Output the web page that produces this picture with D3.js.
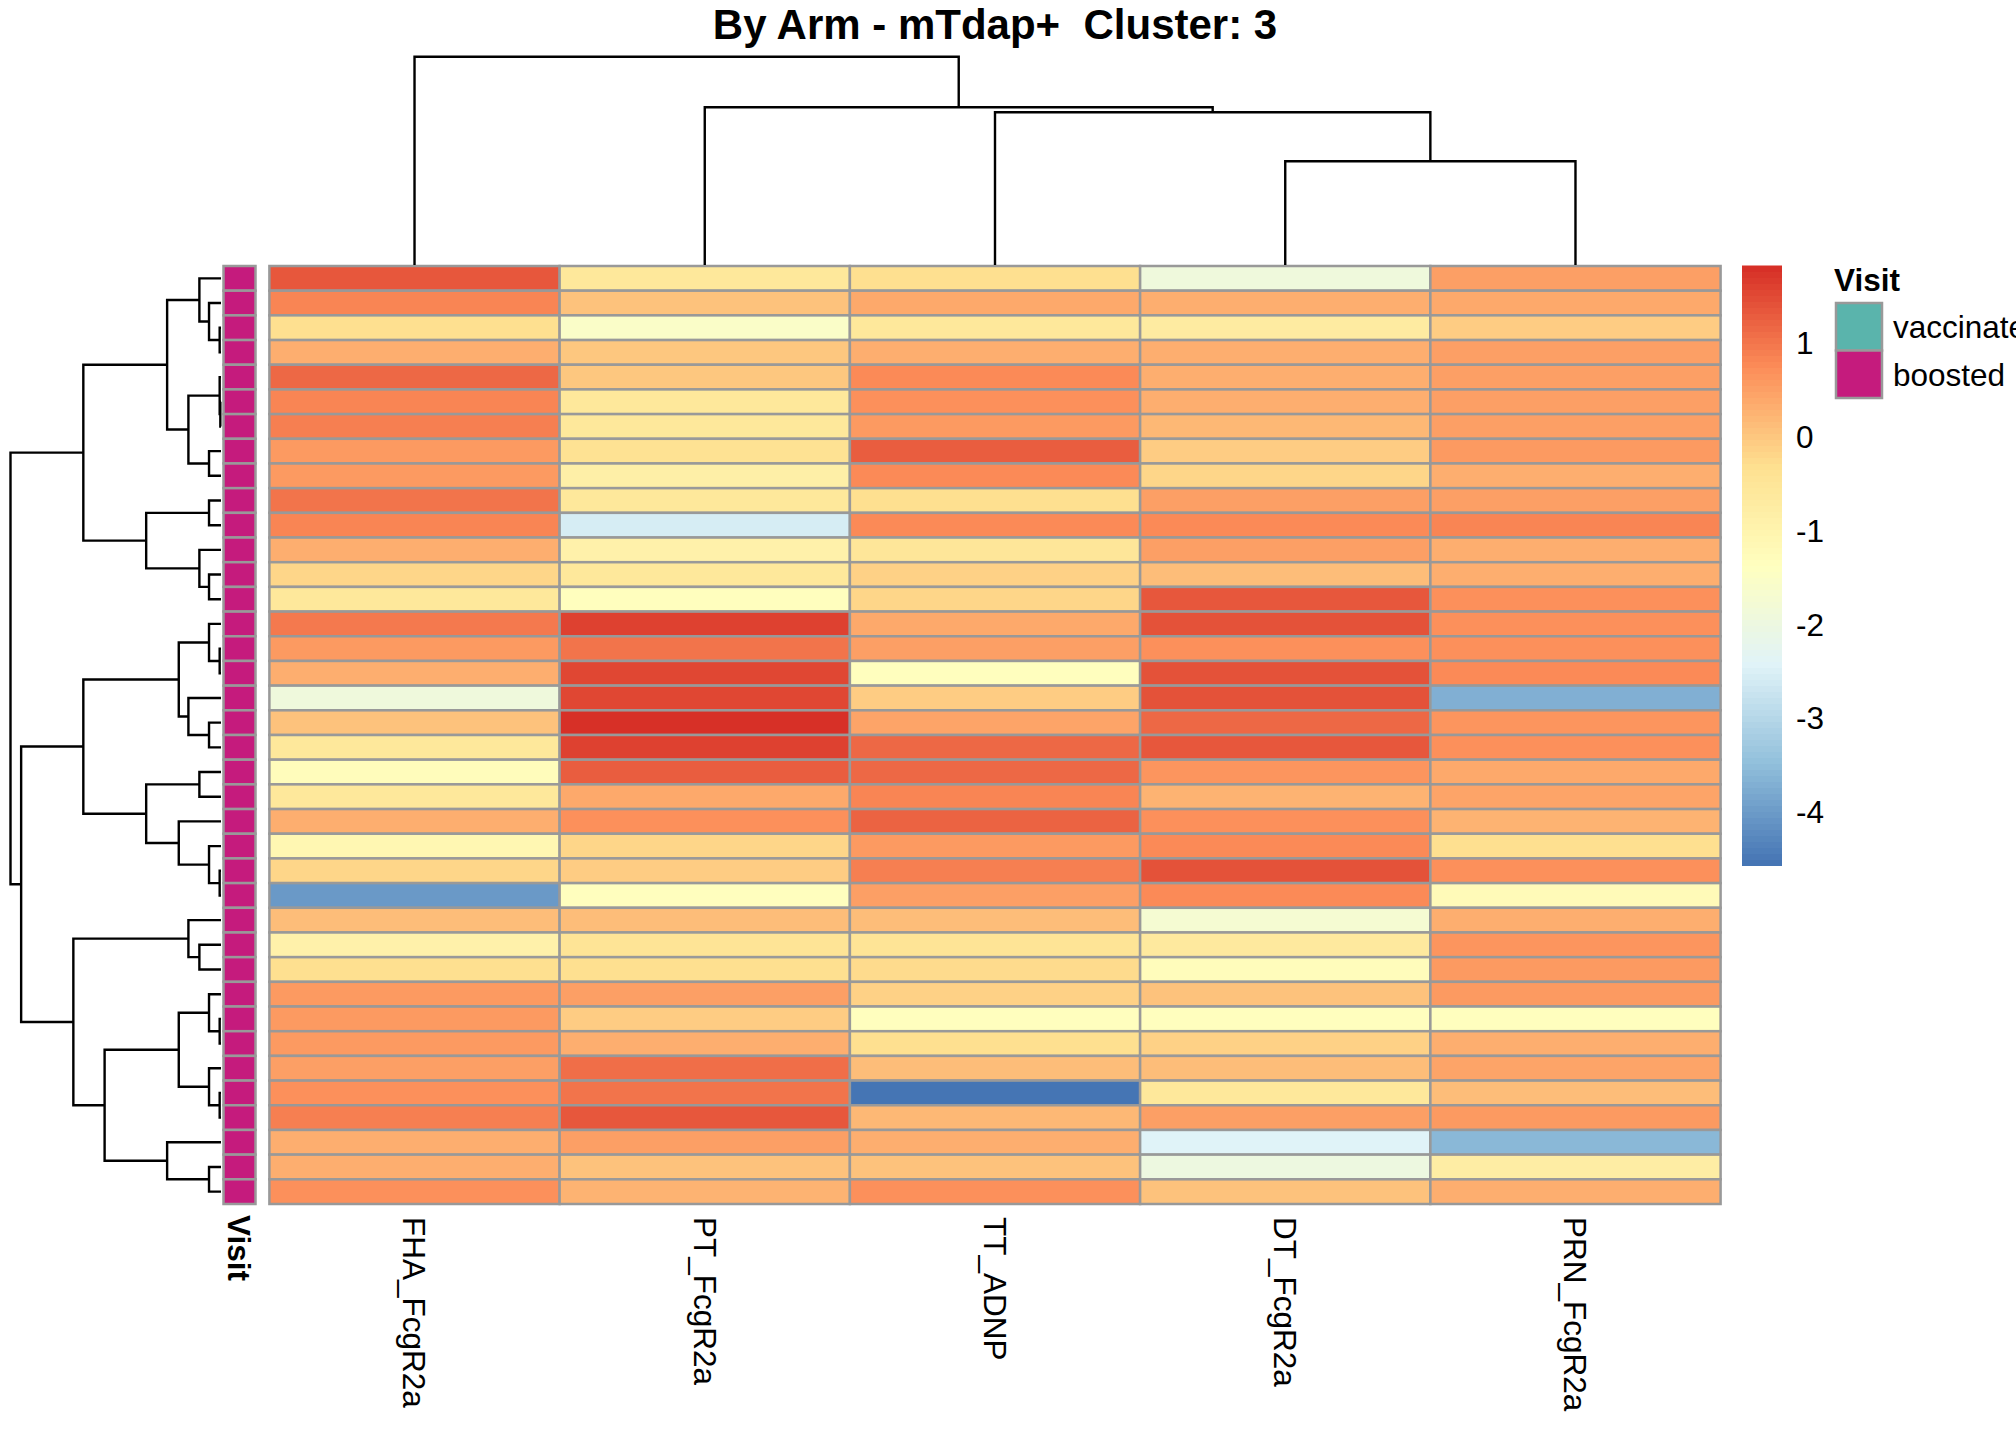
<!DOCTYPE html>
<html>
<head>
<meta charset="utf-8">
<script src="https://cdn.jsdelivr.net/npm/d3@7"></script>
<style>
    body { margin: 0; background: #fff; }
    svg { display: block; overflow: hidden; }
    text { font-family: "Liberation Sans", Arial, sans-serif; fill: #000; }
</style>
</head>
<body>
<svg id="canvas" width="2016" height="1440"></svg>
<script>
// ---- data (rows already in clustered order, top to bottom) ----
var columns = ['FHA_FcgR2a', 'PT_FcgR2a', 'TT_ADNP', 'DT_FcgR2a', 'PRN_FcgR2a'];

var fhaFcgR2a = [1.35, 0.85, -0.3, 0.35, 1.15, 0.85, 0.88, 0.58, 0.58, 1.0, 0.85, 0.35, -0.2,
    -0.6, 0.95, 0.58, 0.35, -1.9, 0.05, -0.55, -1.3, -0.6, 0.35, -1.1, -0.2, -4.05,
    0.15, -0.9, -0.3, 0.58, 0.58, 0.6, 0.52, 0.68, 0.93, 0.35, 0.3, 0.72];
var ptFcgR2a = [-0.6, 0.05, -1.55, 0.0, 0.0, -0.55, -0.55, -0.4, -0.8, -0.55, -2.55, -0.9, -0.6,
    -1.35, 1.6, 1.0, 1.57, 1.57, 1.83, 1.6, 1.28, 0.42, 0.72, -0.2, -0.05, -1.35,
    0.15, -0.45, -0.3, 0.52, -0.05, 0.3, 1.12, 1.0, 1.35, 0.52, 0.05, 0.25];
var ttADNP = [-0.3, 0.4, -0.6, 0.35, 0.75, 0.7, 0.6, 1.3, 0.75, -0.3, 0.77, -0.5, -0.1,
    -0.2, 0.42, 0.52, -1.35, -0.05, 0.45, 1.15, 1.15, 0.85, 1.2, 0.6, 0.88, 0.52,
    0.15, -0.45, -0.28, -0.1, -1.35, -0.3, 0.15, -4.57, 0.2, 0.35, 0.08, 0.74];
var dtFcgR2a = [-1.9, 0.35, -0.7, 0.3, 0.3, 0.3, 0.2, -0.05, -0.2, 0.5, 0.8, 0.5, 0.15,
    1.35, 1.42, 0.72, 1.4, 1.4, 1.15, 1.35, 0.62, 0.25, 0.72, 0.8, 1.4, 0.8,
    -1.7, -0.65, -1.25, 0.05, -1.35, -0.1, 0.15, -0.55, 0.52, -2.45, -2.0, 0.05];
var prnFcgR2a = [0.5, 0.4, -0.05, 0.5, 0.5, 0.5, 0.5, 0.58, 0.35, 0.5, 0.82, 0.35, 0.3,
    0.72, 0.72, 0.68, 0.75, -3.7, 0.62, 0.72, 0.4, 0.48, 0.25, -0.3, 0.68, -1.2,
    0.3, 0.62, 0.6, 0.6, -1.35, 0.3, 0.48, 0.15, 0.6, -3.6, -0.75, 0.3];

var seriesValues = [fhaFcgR2a, ptFcgR2a, ttADNP, dtFcgR2a, prnFcgR2a];

var visitLevels = ['vaccinated', 'boosted'];
var visitColors = ['#5AB4AC', '#C51B7D'];
var rowVisit = ['boosted', 'boosted', 'boosted', 'boosted', 'boosted', 'boosted', 'boosted',
    'boosted', 'boosted', 'boosted', 'boosted', 'boosted', 'boosted', 'boosted', 'boosted',
    'boosted', 'boosted', 'boosted', 'boosted', 'boosted', 'boosted', 'boosted', 'boosted',
    'boosted', 'boosted', 'boosted', 'boosted', 'boosted', 'boosted', 'boosted', 'boosted',
    'boosted', 'boosted', 'boosted', 'boosted', 'boosted', 'boosted', 'boosted'];

var legendTicks = [1, 0, -1, -2, -3, -4];
var rampColors = ['#4575B4', '#91BFDB', '#E0F3F8', '#FFFFBF', '#FEE090', '#FC8D59', '#D73027'];

// dendrograms: leaf = display index, node = [height, left, right]
var rowTree = [6.33,
    [4.14,
        [1.62,
            [0.65, 0, [0.36, 1, [0.04, 2, 3]]],
            [0.98, [0.04, 4, [0.02, 5, 6]], [0.36, 7, 8]]],
        [2.25,
            [0.36, 9, 10],
            [0.65, 11, [0.36, 12, 13]]]],
    [6.01,
        [4.14,
            [1.27,
                [0.36, 14, [0.04, 15, 16]],
                [0.98, 17, [0.36, 18, 19]]],
            [2.25,
                [0.65, 20, 21],
                [1.27, 22, [0.36, 23, [0.04, 24, 25]]]]],
        [4.44,
            [0.98, 26, [0.65, 27, 28]],
            [3.50,
                [1.27,
                    [0.36, 29, [0.04, 30, 31]],
                    [0.36, 32, [0.04, 33, 34]]],
                [1.62, 35, [0.36, 36, 37]]]]]];
var colTree = [20.83, 0, [15.77, 1, [15.27, 2, [10.37, 3, 4]]]];

var title = 'By Arm - mTdap+  Cluster: 3';

// ---- layout ----
var G = {
    hmLeft: 269.4, hmRight: 1720.6, hmTop: 266, hmBottom: 1204,
    annLeft: 223.5, annWidth: 32,
    rowDendroLeft: 10.5, rowDendroRight: 221,
    colDendroTop: 56.7, colDendroBottom: 265,
    legendX: 1742, legendW: 40, legendTop: 265.5, legendBottom: 865.5,
    border: '#999999', borderWidth: 2.5,
    fontSize: 31.5
};

var svg = d3.select('#canvas');
var nRows = fhaFcgR2a.length;

var xScale = d3.scaleBand().domain(d3.range(columns.length)).range([G.hmLeft, G.hmRight]);
var yScale = d3.scaleBand().domain(d3.range(nRows)).range([G.hmTop, G.hmBottom]);

var extent = d3.extent(d3.merge(seriesValues));
var ramp = d3.piecewise(d3.interpolateRgb, rampColors);
var palette = d3.range(100).map(function(i) { return ramp(i / 99); });
var color = d3.scaleQuantize().domain(extent).range(palette);
var visitColor = d3.scaleOrdinal().domain(visitLevels).range(visitColors);

// ---- heatmap cells ----
var cells = [];
seriesValues.forEach(function(vals, c) {
    vals.forEach(function(v, r) { cells.push({ c: c, r: r, v: v }); });
});

svg.append('g').attr('class', 'cells')
    .selectAll('rect').data(cells).enter().append('rect')
        .attr('x', function(d) { return xScale(d.c); })
        .attr('y', function(d) { return yScale(d.r); })
        .attr('width', xScale.bandwidth())
        .attr('height', yScale.bandwidth())
        .attr('fill', function(d) { return color(d.v); })
        .attr('stroke', G.border)
        .attr('stroke-width', G.borderWidth);

// ---- row annotation ----
svg.append('g').attr('class', 'annotation')
    .selectAll('rect').data(rowVisit).enter().append('rect')
        .attr('x', G.annLeft)
        .attr('y', function(d, i) { return yScale(i); })
        .attr('width', G.annWidth)
        .attr('height', yScale.bandwidth())
        .attr('fill', function(d) { return visitColor(d); })
        .attr('stroke', G.border)
        .attr('stroke-width', G.borderWidth);

// ---- dendrograms ----
function toNode(t) {
    return typeof t === 'number' ? { leaf: t, h: 0 } : { h: t[0], children: [toNode(t[1]), toNode(t[2])] };
}

function drawDendro(tree, posScale, hScale, horizontal) {
    var root = d3.hierarchy(toNode(tree));
    root.eachAfter(function(n) {
        n.pos = n.children ? (n.children[0].pos + n.children[1].pos) / 2 : posScale(n.data.leaf) + posScale.bandwidth() / 2;
    });
    var nodes = root.descendants().filter(function(n) { return n.children; });
    svg.append('g').attr('class', 'dendro')
        .selectAll('path').data(nodes).enter().append('path')
            .attr('fill', 'none')
            .attr('stroke', '#000')
            .attr('stroke-width', 2.4)
            .attr('d', function(n) {
                var a = n.children[0], b = n.children[1],
                    h = hScale(n.data.h);
                if (horizontal) {
                    return 'M' + hScale(a.data.h) + ',' + a.pos + 'H' + h + 'V' + b.pos + 'H' + hScale(b.data.h);
                }
                return 'M' + a.pos + ',' + hScale(a.data.h) + 'V' + h + 'H' + b.pos + 'V' + hScale(b.data.h);
            });
}

drawDendro(rowTree, yScale,
    d3.scaleLinear().domain([0, rowTree[0]]).range([G.rowDendroRight, G.rowDendroLeft]), true);
drawDendro(colTree, xScale,
    d3.scaleLinear().domain([0, colTree[0]]).range([G.colDendroBottom, G.colDendroTop]), false);

// ---- labels ----
svg.append('g').attr('class', 'col-labels')
    .selectAll('text').data(columns).enter().append('text')
        .attr('transform', function(d, i) {
            return 'translate(' + (xScale(i) + xScale.bandwidth() / 2) + ',' + (G.hmBottom + 13) + ') rotate(90)';
        })
        .attr('dy', '0.35em')
        .style('font-size', G.fontSize + 'px')
        .text(function(d) { return d; });

svg.append('text')
    .attr('transform', 'translate(' + (G.annLeft + G.annWidth / 2) + ',' + (G.hmBottom + 11) + ') rotate(90)')
    .attr('dy', '0.35em')
    .style('font-size', G.fontSize + 'px')
    .style('font-weight', 'bold')
    .text('Visit');

// title keeps its double space
svg.append('text')
    .attr('x', (G.hmLeft + G.hmRight) / 2)
    .attr('y', 38.5)
    .attr('text-anchor', 'middle')
    .style('font-size', '42px')
    .style('font-weight', 'bold')
    .style('white-space', 'pre')
    .text(title);

// ---- colour legend ----
var legendY = d3.scaleLinear().domain(extent).range([G.legendBottom, G.legendTop]);
var legend = svg.append('g').attr('class', 'legend');
var step = (extent[1] - extent[0]) / palette.length;
legend.selectAll('rect').data(palette).enter().append('rect')
    .attr('x', G.legendX)
    .attr('width', G.legendW)
    .attr('y', function(d, i) { return legendY(extent[0] + (i + 1) * step); })
    .attr('height', function(d, i) { return legendY(extent[0] + i * step) - legendY(extent[0] + (i + 1) * step) + 0.5; })
    .attr('fill', function(d) { return d; });

legend.selectAll('text').data(legendTicks).enter().append('text')
    .attr('x', G.legendX + G.legendW + 14)
    .attr('y', function(d) { return legendY(d); })
    .attr('dy', '0.35em')
    .style('font-size', G.fontSize + 'px')
    .text(function(d) { return d; });

// ---- annotation legend ----
var annLegend = svg.append('g').attr('class', 'ann-legend');
annLegend.append('text')
    .attr('x', 1834)
    .attr('y', 291)
    .style('font-size', G.fontSize + 'px')
    .style('font-weight', 'bold')
    .text('Visit');
annLegend.selectAll('rect').data(visitLevels).enter().append('rect')
    .attr('x', 1836)
    .attr('y', function(d, i) { return 303 + i * 47.5; })
    .attr('width', 46)
    .attr('height', 47.5)
    .attr('fill', function(d) { return visitColor(d); })
    .attr('stroke', G.border)
    .attr('stroke-width', G.borderWidth);
annLegend.selectAll('text.lab').data(visitLevels).enter().append('text')
    .attr('class', 'lab')
    .attr('x', 1893)
    .attr('y', function(d, i) { return 327 + i * 47.5; })
    .attr('dy', '0.35em')
    .style('font-size', G.fontSize + 'px')
    .text(function(d) { return d; });
</script>
</body>
</html>
